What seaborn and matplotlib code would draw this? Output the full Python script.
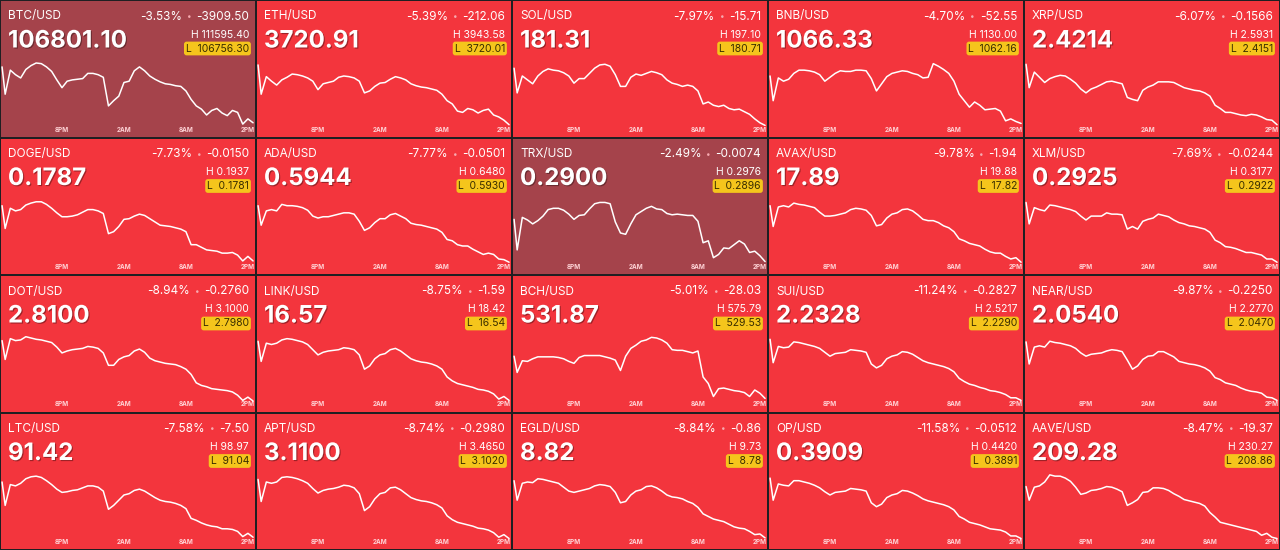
import matplotlib
matplotlib.use("Agg")
import matplotlib.pyplot as plt
import matplotlib.patheffects as pe
import seaborn as sns

# hours since 2PM of the previous day
hours = [0.2, 0.5, 1.0, 1.5, 2.0, 2.5, 3.0, 3.5, 4.0, 4.5, 5.0, 5.5, 6.0, 6.5, 7.0, 7.5,
         8.0, 8.5, 9.0, 9.5, 10.0, 10.5, 11.0, 11.5, 12.0, 12.5, 13.0, 13.5, 14.0, 14.5,
         15.0, 15.5, 16.0, 16.5, 17.0, 17.5, 18.0, 18.5, 19.0, 19.5, 20.0, 20.5, 21.0,
         21.5, 22.0, 22.5, 23.0, 23.5, 24.0, 24.5]
tick_hours = [6, 12, 18, 24]
tick_labels = ["8PM", "2AM", "8AM", "2PM"]

symbols = ["BTC/USD", "ETH/USD", "SOL/USD", "BNB/USD", "XRP/USD",
           "DOGE/USD", "ADA/USD", "TRX/USD", "AVAX/USD", "XLM/USD",
           "DOT/USD", "LINK/USD", "BCH/USD", "SUI/USD", "NEAR/USD",
           "LTC/USD", "APT/USD", "EGLD/USD", "OP/USD", "AAVE/USD"]
prices = ["106801.10", "3720.91", "181.31", "1066.33", "2.4214",
          "0.1787", "0.5944", "0.2900", "17.89", "0.2925",
          "2.8100", "16.57", "531.87", "2.2328", "2.0540",
          "91.42", "3.1100", "8.82", "0.3909", "209.28"]
pct_changes = ["-3.53%", "-5.39%", "-7.97%", "-4.70%", "-6.07%",
               "-7.73%", "-7.77%", "-2.49%", "-9.78%", "-7.69%",
               "-8.94%", "-8.75%", "-5.01%", "-11.24%", "-9.87%",
               "-7.58%", "-8.74%", "-8.84%", "-11.58%", "-8.47%"]
abs_changes = ["-3909.50", "-212.06", "-15.71", "-52.55", "-0.1566",
               "-0.0150", "-0.0501", "-0.0074", "-1.94", "-0.0244",
               "-0.2760", "-1.59", "-28.03", "-0.2827", "-0.2250",
               "-7.50", "-0.2980", "-0.86", "-0.0512", "-19.37"]
highs = ["111595.40", "3943.58", "197.10", "1130.00", "2.5931",
         "0.1937", "0.6480", "0.2976", "19.88", "0.3177",
         "3.1000", "18.42", "575.79", "2.5217", "2.2770",
         "98.97", "3.4650", "9.73", "0.4420", "230.27"]
lows = ["106756.30", "3720.01", "180.71", "1062.16", "2.4151",
        "0.1781", "0.5930", "0.2896", "17.82", "0.2922",
        "2.7980", "16.54", "529.53", "2.2290", "2.0470",
        "91.04", "3.1020", "8.78", "0.3891", "208.86"]
highlighted = ["BTC/USD", "TRX/USD"]

# relative price level over the session (0 = low of the trace, 100 = high)
btc = [92, 50, 87, 80, 75, 88, 94, 98, 97, 92, 85, 72, 60, 70, 72, 73, 74, 82, 82, 80, 76, 32, 40, 47, 68,
       70, 86, 92, 86, 78, 73, 69, 66, 65, 63, 62, 55, 42, 32, 27, 18, 25, 28, 21, 17, 25, 22, 4, 12, 6]
eth = [95, 50, 77, 70, 64, 72, 76, 81, 80, 78, 75, 70, 57, 66, 68, 70, 76, 78, 77, 75, 70, 52, 55, 62, 67,
       68, 73, 77, 75, 72, 66, 63, 61, 60, 58, 56, 50, 40, 35, 24, 22, 28, 26, 21, 25, 27, 18, 15, 10, 3]
sol = [90, 52, 78, 72, 66, 78, 85, 89, 87, 86, 83, 78, 67, 74, 74, 82, 90, 95, 96, 93, 80, 62, 62, 76, 81,
       79, 82, 85, 83, 80, 72, 67, 65, 62, 64, 62, 55, 35, 38, 33, 31, 33, 28, 26, 27, 23, 19, 12, 6, 2]
bnb = [78, 40, 75, 70, 73, 82, 87, 87, 86, 84, 80, 70, 76, 82, 86, 85, 85, 87, 87, 86, 74, 55, 66, 77, 82,
       84, 86, 85, 82, 80, 75, 76, 97, 93, 88, 82, 70, 50, 40, 30, 38, 33, 26, 27, 28, 24, 9, 12, 8, 5]
xrp = [96, 60, 84, 76, 68, 74, 77, 79, 78, 73, 67, 58, 52, 58, 61, 65, 69, 70, 68, 66, 45, 42, 40, 56, 61,
       64, 69, 69, 69, 68, 64, 60, 58, 56, 55, 52, 47, 33, 28, 22, 22, 20, 18, 17, 19, 18, 15, 11, 10, 3]
doge = [90, 55, 86, 82, 84, 91, 94, 96, 96, 92, 86, 79, 73, 73, 74, 76, 80, 84, 84, 82, 78, 47, 50, 58, 69,
        70, 74, 77, 75, 70, 65, 60, 59, 58, 56, 54, 50, 30, 30, 26, 22, 21, 20, 17, 17, 18, 14, 5, 12, 5]
ada = [90, 60, 82, 84, 82, 92, 90, 90, 89, 87, 83, 74, 71, 73, 73, 75, 77, 79, 79, 77, 66, 52, 56, 64, 70,
       70, 76, 78, 74, 70, 63, 61, 60, 58, 56, 54, 49, 38, 36, 30, 28, 28, 23, 19, 15, 17, 15, 8, 7, 3]
trx = [69, 22, 72, 68, 62, 67, 74, 84, 86, 86, 83, 77, 69, 75, 76, 85, 93, 95, 95, 93, 65, 48, 46, 62, 76,
       81, 86, 89, 85, 84, 78, 76, 77, 76, 75, 75, 66, 33, 36, 10, 15, 25, 24, 30, 36, 31, 18, 20, 13, 4]
avax = [90, 58, 88, 90, 88, 94, 92, 91, 89, 87, 80, 74, 74, 75, 77, 79, 84, 86, 85, 83, 75, 59, 61, 71, 77,
        79, 84, 85, 82, 76, 69, 67, 67, 64, 59, 56, 50, 39, 36, 32, 30, 28, 23, 19, 17, 17, 12, 8, 10, 3]
xlm = [95, 62, 87, 84, 82, 91, 90, 88, 86, 84, 81, 74, 68, 74, 74, 74, 79, 77, 77, 76, 54, 58, 54, 66, 69,
       71, 77, 75, 73, 68, 64, 62, 59, 58, 56, 54, 49, 37, 33, 27, 26, 24, 21, 18, 18, 16, 14, 8, 8, 3]
dot = [94, 65, 97, 94, 95, 100, 98, 96, 95, 93, 91, 84, 75, 78, 80, 81, 82, 85, 84, 82, 75, 56, 56, 65, 69,
       71, 78, 81, 76, 67, 63, 61, 59, 58, 57, 54, 50, 42, 29, 25, 23, 20, 19, 18, 17, 15, 10, 2, 7, 1]
link = [93, 62, 90, 88, 90, 95, 97, 96, 94, 92, 88, 80, 72, 76, 78, 79, 80, 83, 82, 80, 72, 50, 55, 66, 72,
        74, 80, 82, 78, 72, 66, 63, 61, 60, 58, 55, 50, 38, 32, 28, 26, 24, 22, 19, 18, 16, 12, 4, 8, 2]
bch = [70, 45, 63, 62, 66, 69, 69, 69, 69, 68, 66, 62, 59, 68, 71, 71, 71, 71, 69, 67, 64, 48, 70, 82, 87,
       93, 95, 99, 98, 95, 90, 80, 79, 79, 77, 75, 78, 38, 28, 8, 20, 21, 19, 17, 16, 14, 8, 18, 13, 5]
sui = [96, 60, 85, 83, 84, 92, 91, 89, 87, 85, 82, 76, 70, 74, 75, 76, 80, 79, 78, 76, 58, 52, 56, 66, 70,
       72, 77, 76, 73, 68, 63, 60, 58, 56, 54, 51, 46, 36, 31, 27, 25, 22, 20, 17, 16, 14, 11, 6, 6, 2]
near = [92, 58, 84, 86, 84, 93, 91, 90, 88, 86, 82, 75, 70, 73, 74, 75, 78, 80, 79, 77, 64, 50, 55, 65, 70,
        71, 77, 77, 73, 69, 62, 60, 58, 57, 55, 52, 47, 37, 34, 29, 27, 25, 21, 18, 16, 15, 13, 7, 6, 2]
ltc = [88, 52, 84, 82, 86, 93, 96, 97, 95, 90, 84, 77, 72, 73, 75, 76, 79, 82, 82, 80, 74, 46, 52, 60, 68,
       70, 75, 77, 74, 69, 64, 60, 58, 57, 55, 52, 47, 32, 29, 25, 22, 20, 19, 16, 16, 15, 12, 4, 9, 3]
apt = [92, 58, 88, 86, 88, 95, 96, 95, 93, 90, 86, 78, 71, 75, 77, 78, 80, 83, 82, 79, 70, 44, 50, 62, 70,
       72, 79, 80, 76, 70, 64, 61, 59, 58, 56, 53, 48, 36, 30, 26, 24, 22, 20, 17, 16, 14, 10, 3, 7, 1]
egld = [90, 60, 86, 88, 87, 93, 92, 90, 88, 86, 80, 74, 72, 74, 76, 78, 82, 84, 83, 81, 72, 56, 58, 68, 74,
        76, 81, 82, 79, 74, 68, 65, 64, 62, 58, 55, 49, 39, 35, 31, 29, 27, 23, 19, 17, 16, 12, 7, 8, 2]
op = [94, 60, 85, 83, 82, 90, 90, 88, 86, 83, 79, 73, 68, 72, 73, 74, 78, 77, 76, 74, 56, 50, 54, 64, 68,
      70, 75, 74, 71, 67, 62, 59, 57, 55, 53, 50, 45, 35, 31, 26, 24, 22, 19, 16, 15, 14, 11, 5, 5, 1]
aave = [81, 60, 80, 82, 88, 99, 97, 97, 94, 89, 80, 69, 71, 75, 76, 78, 81, 80, 77, 73, 52, 56, 61, 72, 73,
        79, 79, 78, 75, 70, 66, 61, 59, 57, 55, 51, 41, 34, 26, 24, 22, 20, 18, 16, 14, 12, 6, 9, 3, 1]

series = [btc, eth, sol, bnb, xrp, doge, ada, trx, avax, xlm,
          dot, link, bch, sui, near, ltc, apt, egld, op, aave]

sns.set_theme(style="white")
plt.rcParams["font.family"] = ["Inter", "DejaVu Sans"]

RED = "#f3353d"
DARK = "#a5434b"
YELLOW = "#f5c51c"
W, H = 1280, 550
ncols, nrows = 5, 4
cw, rh = W / ncols, H / nrows

fig = plt.figure(figsize=(12.8, 5.5), dpi=100, facecolor="#1f1f22")
renderer = fig.canvas.get_renderer()

for i, sym in enumerate(symbols):
    r, c = divmod(i, ncols)
    x0, x1 = c * cw + 1, (c + 1) * cw - 1
    y0, y1 = r * rh + 1, (r + 1) * rh - 1
    tw, th = x1 - x0, y1 - y0

    tile = fig.add_axes([x0 / W, 1 - y1 / H, tw / W, th / H])
    tile.set_facecolor(DARK if sym in highlighted else RED)
    tile.set_xlim(0, tw)
    tile.set_ylim(th, 0)
    tile.set_xticks([])
    tile.set_yticks([])
    for s in tile.spines.values():
        s.set_visible(False)

    tile.text(7, 15.5, sym, ha="left", va="center", fontsize=8.5, color="white")
    big = tile.text(7, 46.5, prices[i], ha="left", va="baseline", fontsize=17.3,
                    fontweight="bold", color="white")
    big.set_path_effects([pe.withSimplePatchShadow(offset=(0.8, -0.8), shadow_rgbFace="black", alpha=0.35)])

    chg = tile.text(248, 15.5, abs_changes[i], ha="right", va="center", fontsize=8.5, color="white")
    bb = chg.get_window_extent(renderer)
    left = tile.transData.inverted().transform((bb.x0, bb.y0))[0]
    tile.text(left - 7, 15.5, "•", ha="center", va="center", fontsize=6, color="#f7aab0")
    tile.text(left - 14, 15.5, pct_changes[i], ha="right", va="center", fontsize=8.5, color="white")

    tile.text(248, 33.5, "H " + highs[i], ha="right", va="center", fontsize=7.5, color="white")
    tile.text(248, 47.5, "L  " + lows[i], ha="right", va="center", fontsize=7.5, color="#3a2e00",
              bbox=dict(boxstyle="round,pad=0.18,rounding_size=0.25", fc=YELLOW, ec="none"))

    # sparkline
    cy0 = r * rh + 55
    ax = fig.add_axes([x0 / W, 1 - y1 / H, tw / W, (y1 - cy0) / H])
    ax.patch.set_alpha(0)
    sns.lineplot(x=hours, y=series[i], ax=ax, color="white", linewidth=1.1)
    ax.set_xlim(1 / 10.33, 255 / 10.33)
    ax.set_ylim(-15.1, 110.3)
    ax.set_yticks([])
    ax.set_xticks(tick_hours, tick_labels)
    ax.tick_params(axis="x", length=0, pad=-7.2, labelsize=4.6, labelcolor="#ffd3d6")
    for lab in ax.get_xticklabels():
        lab.set_fontweight("bold")
    ax.set_xlabel("")
    ax.set_ylabel("")
    for s in ax.spines.values():
        s.set_visible(False)

fig.savefig("out.png", dpi=100, facecolor=fig.get_facecolor())
